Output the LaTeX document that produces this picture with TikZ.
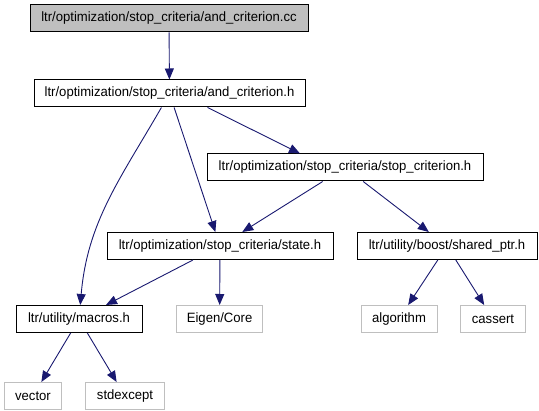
\documentclass[tikz,border=0pt]{standalone}
\usepackage{fontspec}
\setmainfont[FakeStretch=0.97]{Liberation Sans}
\usetikzlibrary{arrows.meta}
\definecolor{edgeblue}{HTML}{191970}
\definecolor{sysgray}{HTML}{BFBFBF}
\tikzset{
  hbox/.style={draw=black, line width=1pt, minimum height=27pt, inner sep=0pt, font=\fontsize{13.5}{16}\selectfont},
  sysbox/.style={hbox, draw=sysgray},
  incl/.style={draw=edgeblue, line width=0.9pt, -{Triangle[length=11pt,width=9pt]}}
}
\begin{document}
\begin{tikzpicture}[x=1pt,y=-1pt]
    \useasboundingbox (0,0) rectangle (539,411);
    % top file
    \node[hbox, fill=sysgray, minimum width=278pt] (cc) at (169,18.5) {ltr/optimization/stop\_criteria/and\_criterion.cc};
    \node[hbox, minimum width=271pt] (andh) at (169.5,93.5) {ltr/optimization/stop\_criteria/and\_criterion.h};
    \node[hbox, minimum width=276pt] (stopcrit) at (345,167.5) {ltr/optimization/stop\_criteria/stop\_criterion.h};
    \node[hbox, minimum width=226pt] (state) at (220,246) {ltr/optimization/stop\_criteria/state.h};
    \node[hbox, minimum width=180pt] (sharedptr) at (447,246) {ltr/utility/boost/shared\_ptr.h};
    \node[hbox, minimum width=126pt] (macros) at (79,319) {ltr/utility/macros.h};
    % system headers
    \node[sysbox, minimum width=86pt] (eigen) at (219.6,319) {Eigen/Core};
    \node[sysbox, minimum width=76pt] (algorithm) at (399,319) {algorithm};
    \node[sysbox, minimum width=65pt] (cassert) at (493,319) {cassert};
    \node[sysbox, minimum width=57pt] (vector) at (33,396) {vector};
    \node[sysbox, minimum width=79pt] (stdexcept) at (125,396) {stdexcept};

    % includes
    \draw[incl] (cc) -- (andh);
    \draw[incl] (andh) to[out=-120, in=85] (macros);
    \draw[incl] (andh) -- (state);
    \draw[incl] ([xshift=38pt]andh.south) -- ([xshift=-45pt]stopcrit.north);
    \draw[incl] (stopcrit) -- (state);
    \draw[incl] (stopcrit) -- (sharedptr);
    \draw[incl] (state) -- (macros);
    \draw[incl] (state) -- (eigen);
    \draw[incl] (sharedptr) -- (algorithm);
    \draw[incl] (sharedptr) -- (cassert);
    \draw[incl] (macros) -- (vector);
    \draw[incl] (macros) -- (stdexcept);
\end{tikzpicture}
\end{document}
